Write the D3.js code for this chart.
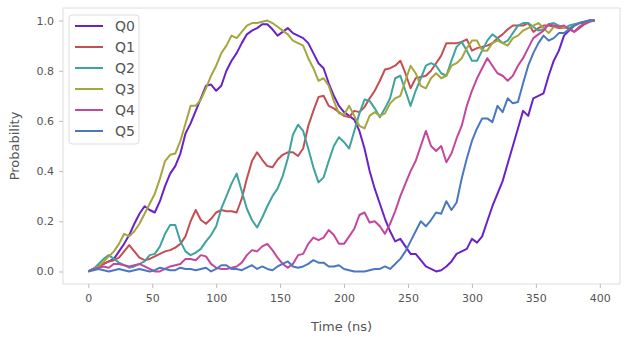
<!DOCTYPE html>
<html>
<head>
<meta charset="utf-8">
<script src="https://cdn.jsdelivr.net/npm/d3@7"></script>
<style>
  html, body { margin: 0; padding: 0; background: #fff; }
  svg { display: block; font-family: "DejaVu Sans", sans-serif; }
</style>
</head>
<body>
<svg id="chart" width="627" height="340"></svg>
<script>
// ---- data ----
const timeStep = 4; // ns
const seriesNames = ["Q0", "Q1", "Q2", "Q3", "Q4", "Q5"];
const xTicks = [0, 50, 100, 150, 200, 250, 300, 350, 400];
const yTicks = [0.0, 0.2, 0.4, 0.6, 0.8, 1.0];

const Q0 = [0.00,0.01,0.02,0.03,0.04,0.05,0.08,0.11,0.145,0.19,
  0.23,0.26,0.245,0.235,0.28,0.34,0.39,0.42,0.47,0.55,
  0.59,0.64,0.69,0.74,0.745,0.72,0.74,0.80,0.84,0.87,
  0.91,0.945,0.96,0.97,0.985,0.985,0.965,0.94,0.955,0.97,
  0.95,0.94,0.93,0.91,0.87,0.83,0.81,0.75,0.70,0.66,
  0.635,0.62,0.605,0.56,0.49,0.40,0.33,0.27,0.21,0.16,
  0.12,0.13,0.10,0.07,0.07,0.045,0.02,0.01,0.00,0.005,
  0.02,0.04,0.07,0.08,0.09,0.13,0.115,0.14,0.20,0.26,
  0.31,0.36,0.43,0.50,0.57,0.64,0.62,0.69,0.70,0.71,
  0.78,0.84,0.88,0.94,0.96,0.98,0.99,0.99,1.0,1.0];
const Q1 = [0.00,0.01,0.02,0.03,0.04,0.045,0.055,0.08,0.105,0.08,
  0.055,0.045,0.05,0.06,0.07,0.08,0.085,0.095,0.11,0.14,
  0.20,0.245,0.205,0.19,0.21,0.235,0.245,0.24,0.24,0.235,
  0.29,0.37,0.44,0.475,0.445,0.42,0.415,0.445,0.465,0.475,
  0.475,0.46,0.49,0.58,0.64,0.695,0.70,0.66,0.65,0.635,
  0.62,0.615,0.64,0.635,0.655,0.69,0.72,0.76,0.805,0.81,
  0.82,0.84,0.79,0.73,0.77,0.775,0.78,0.80,0.83,0.86,
  0.91,0.91,0.91,0.915,0.925,0.88,0.89,0.895,0.90,0.91,
  0.93,0.945,0.965,0.98,0.98,0.98,0.99,0.955,0.97,0.98,
  0.98,0.975,0.97,0.97,0.97,0.955,0.97,0.985,0.995,1.0];
const Q2 = [0.00,0.01,0.03,0.05,0.065,0.05,0.035,0.025,0.015,0.02,
  0.03,0.04,0.065,0.07,0.10,0.15,0.185,0.185,0.12,0.08,
  0.065,0.075,0.09,0.12,0.145,0.18,0.25,0.30,0.35,0.39,
  0.32,0.25,0.205,0.175,0.215,0.26,0.30,0.33,0.38,0.45,
  0.545,0.585,0.56,0.49,0.415,0.355,0.375,0.44,0.50,0.535,
  0.515,0.49,0.56,0.63,0.685,0.68,0.65,0.615,0.65,0.69,
  0.77,0.78,0.72,0.66,0.72,0.77,0.82,0.83,0.82,0.79,
  0.78,0.84,0.895,0.915,0.88,0.84,0.84,0.88,0.92,0.945,
  0.93,0.91,0.92,0.95,0.98,0.99,0.99,0.975,0.96,0.965,
  0.985,0.99,0.98,0.97,0.98,0.985,0.99,0.995,1.0,1.0];
const Q3 = [0.00,0.01,0.02,0.04,0.06,0.08,0.11,0.15,0.14,0.16,
  0.19,0.23,0.27,0.31,0.37,0.44,0.465,0.47,0.52,0.59,
  0.66,0.66,0.685,0.73,0.78,0.82,0.87,0.90,0.94,0.93,
  0.955,0.98,0.99,0.99,0.995,1.0,0.99,0.975,0.96,0.945,
  0.92,0.91,0.90,0.85,0.81,0.76,0.77,0.74,0.68,0.63,
  0.625,0.66,0.62,0.58,0.57,0.62,0.635,0.62,0.63,0.67,
  0.69,0.70,0.76,0.82,0.79,0.74,0.73,0.77,0.79,0.77,
  0.78,0.82,0.83,0.85,0.89,0.92,0.92,0.88,0.88,0.91,
  0.92,0.91,0.90,0.93,0.94,0.96,0.97,0.98,0.99,0.97,
  0.95,0.975,0.975,0.97,0.97,0.98,0.99,0.995,1.0,1.0];
const Q4 = [0.00,0.01,0.015,0.02,0.015,0.03,0.03,0.025,0.02,0.025,
  0.03,0.02,0.01,0.00,0.00,0.01,0.02,0.025,0.03,0.05,
  0.05,0.045,0.065,0.06,0.03,0.015,0.01,0.01,0.015,0.02,
  0.035,0.065,0.085,0.08,0.10,0.11,0.085,0.055,0.03,0.015,
  0.03,0.065,0.07,0.11,0.135,0.125,0.135,0.165,0.145,0.11,
  0.11,0.14,0.17,0.225,0.235,0.195,0.20,0.18,0.15,0.19,
  0.24,0.30,0.35,0.40,0.44,0.50,0.56,0.50,0.48,0.50,
  0.435,0.47,0.53,0.58,0.66,0.72,0.77,0.81,0.85,0.82,
  0.79,0.78,0.76,0.78,0.82,0.85,0.89,0.93,0.945,0.96,
  0.985,0.98,0.975,0.98,0.965,0.955,0.975,0.99,1.0,1.0];
const Q5 = [0.00,0.005,0.01,0.005,0.00,0.005,0.01,0.005,0.00,0.005,
  0.01,0.005,0.00,0.005,0.015,0.01,0.005,0.005,0.015,0.01,
  0.01,0.005,0.01,0.015,0.00,0.01,0.025,0.025,0.01,0.01,
  0.005,0.015,0.025,0.01,0.02,0.01,0.005,0.02,0.03,0.04,
  0.02,0.015,0.02,0.03,0.045,0.035,0.035,0.02,0.02,0.025,
  0.01,0.005,0.00,0.00,0.00,0.005,0.01,0.01,0.02,0.01,
  0.03,0.05,0.08,0.12,0.16,0.20,0.18,0.205,0.235,0.23,
  0.28,0.245,0.275,0.37,0.45,0.52,0.57,0.61,0.61,0.595,
  0.66,0.635,0.69,0.67,0.675,0.75,0.82,0.87,0.91,0.94,
  0.92,0.93,0.95,0.95,0.965,0.98,0.99,0.995,1.0,1.0];

const seriesValues = [Q0, Q1, Q2, Q3, Q4, Q5];
const colors = ["#6a22c8", "#c44e52", "#3fa39e", "#a5a63c", "#c4479c", "#4a78c0"];

// ---- layout ----
const svg = d3.select("#chart");
const mLeft = 63, mRight = 620, mTop = 8, mBottom = 284;
const x = d3.scaleLinear().domain([-19.8, 415.8]).range([mLeft, mRight]);
const y = d3.scaleLinear().domain([-0.05, 1.05]).range([mBottom, mTop]);
const textColor = "#555555";

// frame
svg.append("rect").attr("x", mLeft).attr("y", mTop)
  .attr("width", mRight - mLeft).attr("height", mBottom - mTop)
  .attr("fill", "#fff").attr("stroke", "#dddddd").attr("stroke-width", 1);

// axes
const xAxis = svg.append("g").attr("transform", `translate(0,${mBottom})`)
  .call(d3.axisBottom(x).tickValues(xTicks).tickFormat(d3.format("d")).tickSize(4).tickPadding(6));
const yAxis = svg.append("g").attr("transform", `translate(${mLeft},0)`)
  .call(d3.axisLeft(y).tickValues(yTicks).tickFormat(d3.format(".1f")).tickSize(4).tickPadding(5));
[xAxis, yAxis].forEach(g => {
  g.select(".domain").remove();
  g.selectAll(".tick line").attr("stroke", "#bbbbbb");
  g.selectAll(".tick text").attr("fill", textColor).style("font-size", "11px")
    .style("font-family", "DejaVu Sans, sans-serif");
});

// axis labels
svg.append("text").attr("x", (mLeft + mRight) / 2).attr("y", 331)
  .attr("text-anchor", "middle").attr("fill", textColor).style("font-size", "13px")
  .text("Time (ns)");
svg.append("text").attr("transform", `translate(19,${(mTop + mBottom) / 2}) rotate(-90)`)
  .attr("text-anchor", "middle").attr("fill", textColor).style("font-size", "13px")
  .text("Probability");

// lines
const line = d3.line().x((d, i) => x(i * timeStep)).y(d => y(d));
const plot = svg.append("g");
seriesValues.forEach((vals, k) => {
  plot.append("path").datum(vals)
    .attr("d", line).attr("fill", "none")
    .attr("stroke", colors[k]).attr("stroke-width", 2)
    .attr("stroke-linejoin", "round");
});

// legend
const lg = svg.append("g");
lg.append("rect").attr("x", 69).attr("y", 15).attr("width", 70).attr("height", 129)
  .attr("rx", 3).attr("fill", "rgba(255,255,255,0.8)").attr("stroke", "#dddddd");
seriesNames.forEach((name, k) => {
  const cy = 26 + k * 21;
  lg.append("line").attr("x1", 75).attr("x2", 103).attr("y1", cy).attr("y2", cy)
    .attr("stroke", colors[k]).attr("stroke-width", 2);
  lg.append("text").attr("x", 115).attr("y", cy).attr("dy", "0.36em")
    .attr("fill", textColor).style("font-size", "14px").text(name);
});
</script>
</body>
</html>
